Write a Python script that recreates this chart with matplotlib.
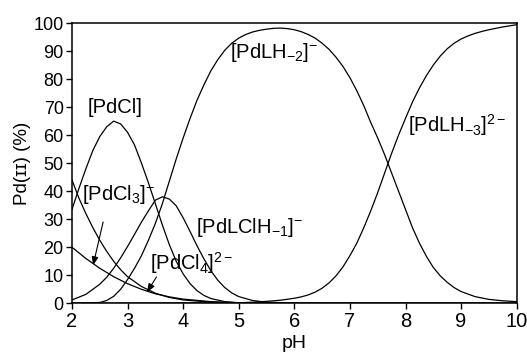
import matplotlib
matplotlib.use("Agg")
import matplotlib.pyplot as plt

plt.rcParams['font.family'] = ['Liberation Sans', 'DejaVu Sans']
plt.rcParams['mathtext.fontset'] = 'custom'
plt.rcParams['mathtext.rm'] = 'Liberation Sans'
plt.rcParams['mathtext.it'] = 'Liberation Sans'
plt.rcParams['mathtext.default'] = 'regular'

# ---- data ----
ph_pdcl = [2.0, 2.125, 2.25, 2.375, 2.5, 2.625, 2.75, 2.875, 3.0, 3.125, 3.25, 3.375,
           3.5, 3.625, 3.75, 3.875, 4.0, 4.125, 4.25, 4.375, 4.5, 4.75, 5.0, 5.5, 10.0]
pdcl = [33.5, 41, 48, 54.5, 59.5, 63, 65, 64, 61, 56.5, 50, 43,
        35.5, 28, 21, 15, 10.5, 7, 4.5, 2.8, 1.7, 0.6, 0.2, 0.0, 0.0]

ph_pdcl4 = [2.0, 2.125, 2.25, 2.375, 2.5, 2.625, 2.75, 2.875, 3.0, 3.25, 3.5, 3.75,
            4.0, 4.5, 5.0, 6.0, 10.0]
pdcl4 = [44, 37.5, 32, 27, 22.5, 18.5, 15, 12, 9.5, 6, 3.6, 2.1,
         1.2, 0.4, 0.1, 0.0, 0.0]

ph_pdcl3 = [2.0, 2.25, 2.5, 2.75, 3.0, 3.25, 3.5, 3.75, 4.0, 4.5, 5.0, 6.0, 10.0]
pdcl3 = [20, 16, 12.5, 9.5, 7, 5, 3.4, 2.3, 1.5, 0.6, 0.2, 0.0, 0.0]

ph_pdlclh = [2.0, 2.25, 2.5, 2.625, 2.75, 2.875, 3.0, 3.125, 3.25, 3.375, 3.5, 3.625,
             3.75, 3.875, 4.0, 4.125, 4.25, 4.375, 4.5, 4.625, 4.75, 4.875, 5.0, 5.25,
             5.5, 6.0, 7.0, 10.0]
pdlclh = [1.2, 3.2, 6.8, 9.3, 12.5, 16.2, 20.3, 24.6, 29, 33, 36.8, 38,
          37.2, 34.8, 30.5, 25.6, 20.5, 15.8, 11.6, 8.2, 5.6, 3.7, 2.4, 1.0,
          0.4, 0.1, 0.0, 0.0]

ph_pdlh2 = [2.0, 2.5, 2.625, 2.75, 2.875, 3.0, 3.125, 3.25, 3.375, 3.5, 3.625, 3.75,
            3.875, 4.0, 4.125, 4.25, 4.375, 4.5, 4.625, 4.75, 4.875, 5.0, 5.125, 5.25,
            5.375, 5.5, 5.625, 5.75, 5.875, 6.0, 6.125, 6.25, 6.375, 6.5, 6.625, 6.75,
            6.875, 7.0, 7.125, 7.25, 7.375, 7.5, 7.625, 7.75, 7.875, 8.0, 8.125, 8.25,
            8.375, 8.5, 8.625, 8.75, 8.875, 9.0, 9.25, 9.5, 9.75, 10.0]
pdlh2 = [0.0, 0.3, 1.0, 2.5, 5, 8.5, 12.5, 17, 22.5, 28.5, 35.5, 43.5,
         51.5, 59, 66, 72.5, 78, 83, 87, 90.3, 92.8, 94.6, 95.9, 96.8,
         97.4, 97.8, 98.1, 98.2, 98.0, 97.6, 96.9, 95.9, 94.6, 92.8, 90.6, 87.8,
         84.5, 80.5, 75.8, 70.5, 64.5, 59, 53, 46.5, 40, 33.5, 27, 21.5,
         16.8, 12.8, 9.8, 7.5, 5.6, 4.2, 2.4, 1.4, 0.9, 0.6]

ph_pdlh3 = [2.0, 5.0, 5.25, 5.5, 5.75, 6.0, 6.125, 6.25, 6.375, 6.5, 6.625, 6.75,
            6.875, 7.0, 7.125, 7.25, 7.375, 7.5, 7.625, 7.75, 7.875, 8.0, 8.125, 8.25,
            8.375, 8.5, 8.625, 8.75, 8.875, 9.0, 9.125, 9.25, 9.375, 9.5, 9.75, 10.0]
pdlh3 = [0.0, 0.2, 0.4, 0.7, 1.1, 1.8, 2.3, 3.0, 4.0, 5.4, 7.3, 9.8,
         13, 17, 21.5, 27, 33, 39.5, 46.5, 53.5, 60, 66, 71.8, 76.8,
         81.2, 85, 88.2, 90.8, 92.8, 94.3, 95.4, 96.3, 97, 97.6, 98.6, 99.4]

x_ticks = [2, 3, 4, 5, 6, 7, 8, 9, 10]
y_ticks = [0, 10, 20, 30, 40, 50, 60, 70, 80, 90, 100]

# ---- figure ----
fig = plt.figure(figsize=(5.27, 3.52), dpi=100)
ax = fig.add_axes([0.1366, 0.1383, 0.8438, 0.7963])

lw = 0.9
for xs, ys in [(ph_pdcl, pdcl), (ph_pdcl4, pdcl4), (ph_pdcl3, pdcl3),
               (ph_pdlclh, pdlclh), (ph_pdlh2, pdlh2), (ph_pdlh3, pdlh3)]:
    ax.plot(xs, ys, color='black', lw=lw, solid_joinstyle='round')

ax.set_xlim(2, 10)
ax.set_ylim(0, 100)
ax.set_xticks(x_ticks)
ax.set_yticks(y_ticks)
ax.tick_params(axis='x', direction='out', length=4, width=1, labelsize=14.5, pad=2)
ax.tick_params(axis='y', direction='out', length=4, width=1, labelsize=13, pad=2)
for s in ax.spines.values():
    s.set_linewidth(1.1)

ax.set_xlabel('pH', fontsize=14, labelpad=3)
ax.set_ylabel('Pd(ɪɪ) (%)', fontsize=13.5, labelpad=2)

fs = 14.5
ax.text(2.77, 69.7, '[PdCl]', fontsize=fs, ha='center', va='center')
ax.text(4.84, 87.4, r'[PdLH$_{-2}$]$^{-}$', fontsize=fs, ha='left', va='baseline')
ax.text(8.04, 61.2, r'[PdLH$_{-3}$]$^{2-}$', fontsize=fs, ha='left', va='baseline')
ax.text(2.18, 36.9, r'[PdCl$_{3}$]$^{-}$', fontsize=fs, ha='left', va='baseline')
ax.text(4.24, 25.0, r'[PdLClH$_{-1}$]$^{-}$', fontsize=fs, ha='left', va='baseline')
ax.text(3.40, 12.1, r'[PdCl$_{4}$]$^{2-}$', fontsize=fs, ha='left', va='baseline')

arrow = dict(arrowstyle='-|>,head_length=0.5,head_width=0.2', color='black', lw=0.8,
             shrinkA=0, shrinkB=0)
ax.annotate('', xy=(2.38, 13.6), xytext=(2.56, 29.0), arrowprops=arrow)
ax.annotate('', xy=(3.35, 4.0), xytext=(3.52, 9.4), arrowprops=arrow)

fig.savefig('out.png', dpi=100)
